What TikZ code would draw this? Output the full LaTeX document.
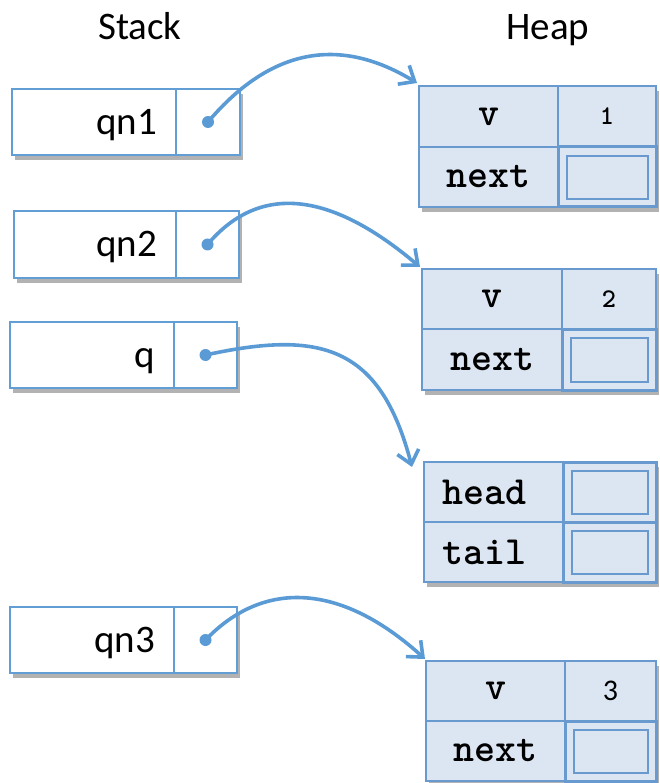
\documentclass[tikz,border=0pt]{standalone}
\usepackage{fontspec}
\setmainfont{Carlito}
\usetikzlibrary{shadows,arrows.meta}
\definecolor{stackline}{RGB}{98,158,214}
\definecolor{heapline}{RGB}{104,154,208}
\definecolor{heapfill}{RGB}{220,230,242}
\definecolor{arrowc}{RGB}{91,155,213}
\begin{document}
\begin{tikzpicture}[x=1pt,y=-1pt,
  cellbase/.style={rectangle, anchor=north west, inner sep=0pt, outer sep=0pt},
  stackbox/.style={cellbase, draw=stackline, line width=1.6pt, fill=white,
    drop shadow={shadow xshift=3pt, shadow yshift=-5pt, opacity=0.5, fill=black!60}},
  stackptr/.style={cellbase, draw=stackline, line width=1.6pt},
  heapbox/.style={cellbase, fill=heapfill,
    drop shadow={shadow xshift=3pt, shadow yshift=-5pt, opacity=0.5, fill=black!60}},
  heapcell/.style={cellbase, draw=heapline, line width=2pt, fill=heapfill,
    font=\ttfamily\bfseries\fontsize{40}{44}\selectfont},
  heapptr/.style={cellbase, draw=heapline, line width=3pt, fill=heapfill},
  numtext/.style={font=\ttfamily\bfseries\fontsize{27}{30}\selectfont},
  title/.style={font=\fontsize{39}{44}\selectfont, anchor=base},
  stacklabel/.style={font=\fontsize{39}{44}\selectfont, anchor=base east, inner sep=0pt},
  ptrarrow/.style={draw=arrowc, line width=3.6pt, -{Straight Barb[length=13pt,width=22pt]}},
  dotc/.style={fill=arrowc}
]
\useasboundingbox (0,0) rectangle (659,783);

% titles
\node[title] (stacktitle) at (140,40) {Stack};
\node[title] (heaptitle) at (548,40) {Heap};

% stack boxes
\node[stackbox, minimum width=228pt, minimum height=66pt] (qn1) at (12,89) {};
\node[stackptr, minimum width=64pt, minimum height=66pt] (qn1p) at (176,89) {};
\node[stacklabel] (qn1t) at (157,135) {qn1};

\node[stackbox, minimum width=225pt, minimum height=67pt] (qn2) at (14,211) {};
\node[stackptr, minimum width=63pt, minimum height=67pt] (qn2p) at (176,211) {};
\node[stacklabel] (qn2t) at (157,257) {qn2};

\node[stackbox, minimum width=227pt, minimum height=66pt] (q) at (10,322) {};
\node[stackptr, minimum width=63pt, minimum height=66pt] (qp) at (174,322) {};
\node[stacklabel] (qt) at (155,367) {q};

\node[stackbox, minimum width=227pt, minimum height=66pt] (qn3) at (10,607) {};
\node[stackptr, minimum width=63pt, minimum height=66pt] (qn3p) at (174,607) {};
\node[stacklabel] (qn3t) at (155,652) {qn3};

% heap box 1
\node[heapbox, minimum width=237pt, minimum height=121pt] (h1) at (419,86) {};
\node[heapcell, minimum width=139pt, minimum height=61pt] (h1v) at (419,86) {v};
\node[heapcell, minimum width=98pt, minimum height=61pt, numtext] (h1val) at (558,86) {1};
\node[heapcell, minimum width=139pt, minimum height=60pt] (h1n) at (419,147) {next};
\node[heapptr, minimum width=98pt, minimum height=60pt] (h1p) at (558,147) {};

% heap box 2
\node[heapbox, minimum width=234pt, minimum height=121pt] (h2) at (422,269) {};
\node[heapcell, minimum width=140pt, minimum height=60pt] (h2v) at (422,269) {v};
\node[heapcell, minimum width=94pt, minimum height=60pt, numtext] (h2val) at (562,269) {2};
\node[heapcell, minimum width=140pt, minimum height=61pt] (h2n) at (422,329) {next};
\node[heapptr, minimum width=94pt, minimum height=61pt] (h2p) at (562,329) {};

% heap box 3 (queue)
\node[heapbox, minimum width=232pt, minimum height=120pt] (h3) at (424,462) {};
\node[heapcell, minimum width=139pt, minimum height=60pt, align=left, text width=103pt] (h3h) at (424,462) {head};
\node[heapptr, minimum width=93pt, minimum height=60pt] (h3hp) at (563,462) {};
\node[heapcell, minimum width=139pt, minimum height=60pt, align=left, text width=103pt] (h3t) at (424,522) {tail};
\node[heapptr, minimum width=93pt, minimum height=60pt] (h3tp) at (563,522) {};

% heap box 4
\node[heapbox, minimum width=230pt, minimum height=120pt] (h4) at (426,661) {};
\node[heapcell, minimum width=139pt, minimum height=60pt] (h4v) at (426,661) {v};
\node[heapcell, minimum width=91pt, minimum height=60pt, font=\rmfamily\mdseries\fontsize{30}{34}\selectfont] (h4val) at (565,661) {3};
\node[heapcell, minimum width=139pt, minimum height=60pt] (h4n) at (426,721) {next};
\node[heapptr, minimum width=91pt, minimum height=60pt] (h4p) at (565,721) {};

% inner rectangles of pointer cells
\foreach \c in {h1p,h2p,h3hp,h3tp,h4p}{
  \draw[heapline, line width=2.2pt] ([shift={(9,9)}]\c.north west) rectangle ([shift={(-8,-8)}]\c.south east);
}

% arrows
\fill[dotc] (qn1p.center) circle (6pt);
\draw[ptrarrow] (qn1p.center) .. controls (262,58) and (330,30) .. ([shift={(-2,-3)}]h1.north west);
\fill[dotc] (qn2p.center) circle (6pt);
\draw[ptrarrow] (qn2p.center) .. controls (262,180) and (335,195) .. ([shift={(-2,-2)}]h2.north west);
\fill[dotc] (qp.center) circle (6pt);
\draw[ptrarrow] (qp.center) .. controls (320,330) and (380,345) .. ([shift={(-12,5)}]h3.north west);
\fill[dotc] (qn3p.center) circle (6pt);
\draw[ptrarrow] (qn3p.center) .. controls (263,580) and (340,582) .. ([shift={(-1,-2)}]h4.north west);
\end{tikzpicture}
\end{document}
